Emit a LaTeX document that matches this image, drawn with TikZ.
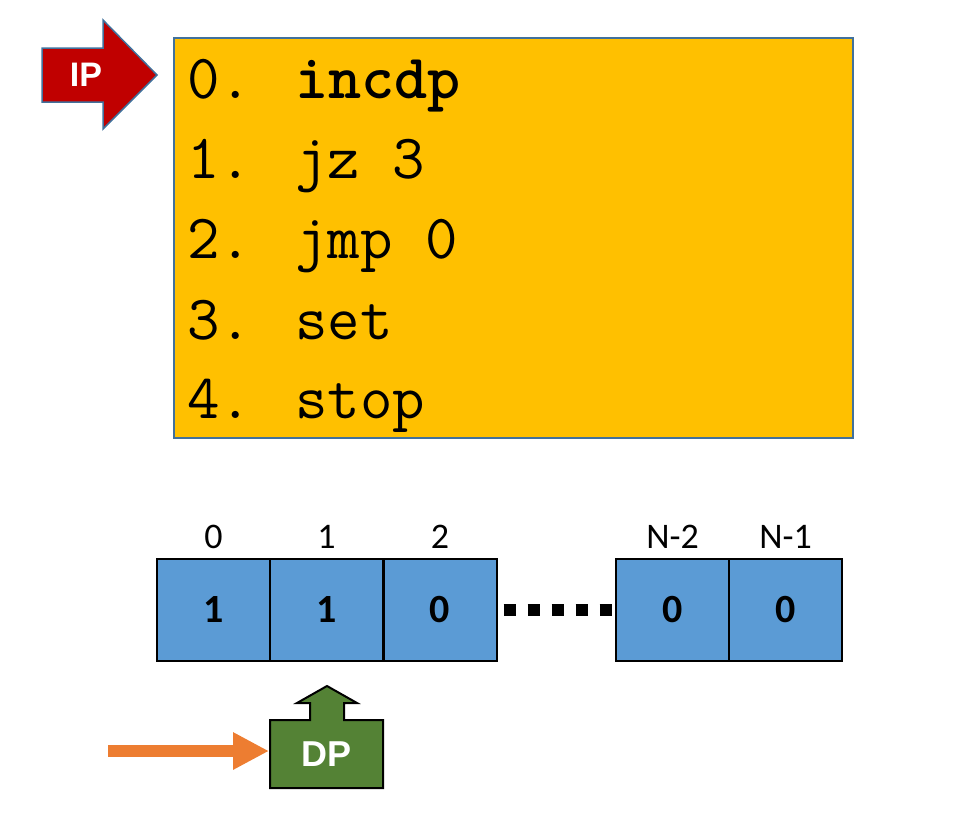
\documentclass[tikz,border=0pt]{standalone}
\usepackage{fontspec}
\setmainfont{Carlito}
\newfontfamily\arialfont{Liberation Sans}
\usetikzlibrary{arrows.meta}
\definecolor{codeyellow}{HTML}{FFC000}
\definecolor{codeborder}{HTML}{41719C}
\definecolor{ipred}{HTML}{C00000}
\definecolor{cellblue}{HTML}{5B9BD5}
\definecolor{dpgreen}{HTML}{548235}
\definecolor{arroworange}{HTML}{ED7D31}
\tikzset{
  codeline/.style={anchor=base west, inner sep=0pt, font=\ttfamily\fontsize{63}{66}\selectfont},
  cell/.style={draw=black, line width=2pt, fill=cellblue, minimum width=113pt, minimum height=102pt, inner sep=0pt, font=\bfseries\fontsize{40}{44}\selectfont},
  idx/.style={inner sep=0pt, font=\fontsize{36}{40}\selectfont},
  dotline/.style={line width=12pt, dash pattern=on 12pt off 12pt, dash phase=18pt},
  whitebold/.style={text=white, inner sep=0pt, font=\arialfont\bfseries\fontsize{34}{38}\selectfont}
}
\begin{document}
\begin{tikzpicture}[x=1pt,y=-1pt]
\useasboundingbox (0,0) rectangle (964,820);
% code box
\node[draw=codeborder, line width=1.5pt, fill=codeyellow, minimum width=679pt, minimum height=400pt, anchor=north west, inner sep=0pt] (code) at (173,37) {};
\node[codeline] (l0) at (187,98) {0. \textbf{incdp}};
\node[codeline] (l1) at (187,178) {1. jz 3};
\node[codeline] (l2) at (187,258) {2. jmp 0};
\node[codeline] (l3) at (187,339) {3. set};
\node[codeline] (l4) at (187,418) {4. stop};
% IP arrow
\draw[draw=codeborder, line width=1.5pt, fill=ipred] (42,48) -- (103,48) -- (103,20) -- (157,75) -- (103,129) -- (103,102) -- (42,102) -- cycle;
\node[whitebold] (ip) at (86,75) {IP};
% memory cells
\node[cell] (c0) at (213.5,610) {1};
\node[cell] (c1) at (326.5,610) {1};
\node[cell] (c2) at (440,610) {0};
\node[cell] (cn2) at (672.5,610) {0};
\node[cell] (cn1) at (785.5,610) {0};
\node[idx] (i0) at (213.5,537) {0};
\node[idx] (i1) at (326.5,537) {1};
\node[idx] (i2) at (440,537) {2};
\node[idx] (in2) at (672.5,537) {N-2};
\node[idx] (in1) at (785.5,537) {N-1};
\draw[dotline] (c2.east) -- (cn2.west);
% DP
\draw[line width=2pt, fill=dpgreen] (270,720) -- (310,720) -- (310,703) -- (297,703) -- (327,686) -- (357,703) -- (344,703) -- (344,720) -- (383,720) -- (383,788) -- (270,788) -- cycle;
\coordinate (dpw) at (270,754);
\node[whitebold, font=\arialfont\bfseries\fontsize{36}{40}\selectfont] (dp) at (326.5,754) {DP};
\coordinate (src) at (108,751);
\draw[arroworange, line width=12pt, -{Triangle[length=36pt, width=35pt]}] (src) -- ([xshift=-1pt]dpw |- src);
\end{tikzpicture}
\end{document}
